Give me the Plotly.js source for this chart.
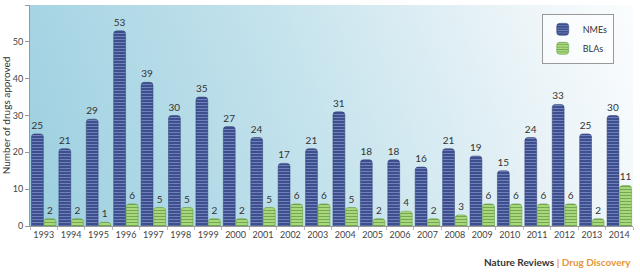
<!DOCTYPE html>
<html>
<head>
<meta charset="utf-8">
<script src="https://cdn.plot.ly/plotly-3.0.1.min.js"></script>
<style>html,body{margin:0;padding:0;background:#fff;}#chart{width:640px;height:275px;}</style>
</head>
<body>
<div id="chart"></div>
<script>
const years = ["1993","1994","1995","1996","1997","1998","1999","2000","2001","2002","2003","2004","2005","2006","2007","2008","2009","2010","2011","2012","2013","2014"];
const nmes = [25,21,29,53,39,30,35,27,24,17,21,31,18,18,16,21,19,15,24,33,25,30];
const blas = [2,2,1,6,5,5,2,2,5,6,6,5,2,4,2,3,6,6,6,6,2,11];
const yTicks = [0,10,20,30,40,50,60];

function gradientURL(){
  const c = document.createElement('canvas');
  c.width = 603; c.height = 221;
  const ctx = c.getContext('2d');
  const g = ctx.createLinearGradient(0, 221, 603, 0);
  g.addColorStop(0, '#9ccfe0');
  g.addColorStop(0.45, '#c3e2ec');
  g.addColorStop(0.8, '#e9f3f7');
  g.addColorStop(1, '#fbfdfe');
  ctx.fillStyle = g;
  ctx.fillRect(0,0,603,221);
  return c.toDataURL('image/png');
}

const font = "Lato, Open Sans, sans-serif";

const traces = [
  {
    type: 'bar', name: 'NMEs', x: years, y: nmes,
    marker: {color: '#3e4f8e', line: {color: '#2e3d72', width: 0.5}, cornerradius: 3,
      pattern: {shape: '-', fgcolor: '#7f90c8', bgcolor: '#3e4f8e', size: 3, solidity: 0.25}},
    text: nmes.map(String), textposition: 'outside', cliponaxis: false,
    textfont: {size: 10, color: '#333', family: font}
  },
  {
    type: 'bar', name: 'BLAs', x: years, y: blas,
    marker: {color: '#a3d27a', line: {color: '#5f9a3a', width: 0.5}, cornerradius: 3,
      pattern: {shape: '-', fgcolor: '#5e9a3a', bgcolor: '#aad67f', size: 3, solidity: 0.25}},
    text: blas.map(String), textposition: 'outside', cliponaxis: false,
    textfont: {size: 10, color: '#333', family: font}
  }
];

const layout = {
  width: 640, height: 275,
  margin: {l: 30, r: 7, t: 5, b: 49},
  paper_bgcolor: '#ffffff', plot_bgcolor: 'rgba(0,0,0,0)',
  font: {family: font, size: 9, color: '#444'},
  barmode: 'group', bargap: 0.08, bargroupgap: 0.06,
  showlegend: true,
  legend: {x: 0.968, y: 0.96, xanchor: 'right', yanchor: 'top', bgcolor: 'rgba(255,255,255,0.6)',
    bordercolor: '#999', borderwidth: 1, font: {size: 9, color: '#333', family: font},
    itemwidth: 30, tracegroupgap: 0},
  xaxis: {type: 'category', tickangle: 0, tickfont: {size: 9, color: '#444'}, showgrid: false,
    showline: true, linecolor: '#999', linewidth: 1, ticks: 'outside', tickson: 'boundaries',
    ticklen: 3, tickcolor: '#bbb', zeroline: false, fixedrange: true, automargin: false},
  yaxis: {range: [0, 60], tickvals: yTicks, ticktext: yTicks.map(String), showgrid: false,
    zeroline: false, showline: true, linecolor: '#999', linewidth: 1, ticks: 'outside', ticklen: 4,
    tickcolor: '#999', tickfont: {size: 9, color: '#444'}, automargin: false,
    title: {text: 'Number of drugs approved', font: {size: 10, color: '#333'}, standoff: 6}},
  images: [{source: gradientURL(), xref: 'paper', yref: 'paper', x: 0, y: 1, sizex: 1, sizey: 1,
    sizing: 'stretch', layer: 'below', xanchor: 'left', yanchor: 'top'}],
  annotations: [{xref: 'paper', yref: 'paper', x: 1.0, y: -0.163, xanchor: 'right', yanchor: 'middle',
    showarrow: false, font: {size: 10, family: font, color: '#333'},
    text: '<b>Nature Reviews</b> <span style="color:#e6963a"><b>| Drug Discovery</b></span>'}]
};

Plotly.newPlot('chart', traces, layout, {displayModeBar: false, staticPlot: true});
</script>
</body>
</html>
